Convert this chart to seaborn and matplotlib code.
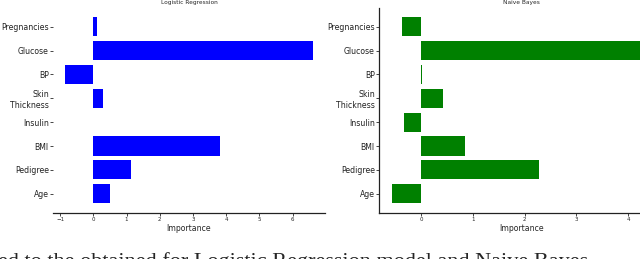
import numpy as np
import pandas as pd
import seaborn as sns
from matplotlib import pyplot as plt

features = ["Pregnancies", "Glucose", "BP", "Skin\nThickness", "Insulin", "BMI", "Pedigree", "Age"]
lr_importance = [0.12, 6.6, -0.84, 0.3, 0.0, 3.8, 1.14, 0.5]
nb_importance = [-0.37, 4.44, 0.02, 0.42, -0.33, 0.84, 2.27, -0.56]

sns.set_style("ticks")
plt.rcParams['font.family'] = ['DejaVu Sans']

lr_df = pd.DataFrame({"feature": features, "importance": lr_importance})
nb_df = pd.DataFrame({"feature": features, "importance": nb_importance})

fig = plt.figure(figsize=(6.4, 2.59), dpi=100)
ax1 = fig.add_axes([53/640, 46.5/259, 272/640, 204.5/259])
ax2 = fig.add_axes([379/640, 46.5/259, 285/640, 204.5/259])

panels = [(ax1, lr_df, "#0000ff", "Logistic Regression"),
          (ax2, nb_df, "#008000", "Naive Bayes")]

for ax, df, col, title in panels:
    sns.barplot(data=df, x="importance", y="feature", color=col, saturation=1,
                orient="h", width=0.8, linewidth=0, ax=ax)
    ax.set_ylim(7.79, -0.79)
    ax.set_title(title, fontsize=4.2, pad=3)
    ax.set_xlabel("Importance", fontsize=5.6, labelpad=1)
    ax.set_ylabel("")
    ax.tick_params(axis="y", labelsize=5.6, length=2, width=0.6, pad=1, labelcolor="#222222")
    ax.tick_params(axis="x", labelsize=4, length=2, width=0.6, pad=1.5)
    for s in ax.spines.values():
        s.set_linewidth(0.9)
        s.set_color("#222222")
    sns.despine(ax=ax)

ax1.spines["left"].set_visible(False)

# caption of the source page, cut by the bottom edge as in the reference
fig.text(-0.003, -8/259, "ed to the obtained for Logistic Regression model and Naive Bayes",
         family="Liberation Serif", fontsize=16, va="baseline", ha="left")

fig.savefig("out.png", dpi=100)
